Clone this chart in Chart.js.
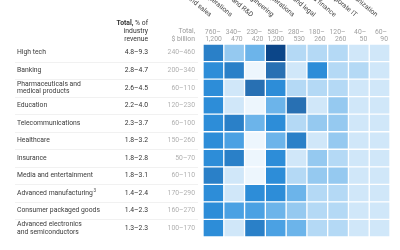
<!DOCTYPE html>
<html>
<head>
<meta charset="utf-8">
<script src="https://cdn.jsdelivr.net/npm/chart.js@4.4.1/dist/chart.umd.min.js"></script>
<style>
  html, body { margin: 0; padding: 0; background: #fff; }
  #wrap { width: 400px; height: 250px; position: relative; }
</style>
</head>
<body>
<div id="wrap"><canvas id="heat"></canvas></div>
<script>
var industries = ['High tech', 'Banking', 'Pharmaceuticals and\nmedical products', 'Education',
    'Telecommunications', 'Healthcare', 'Insurance', 'Media and entertainment',
    'Advanced manufacturing', 'Consumer packaged goods', 'Advanced electronics\nand semiconductors'];
var revenueShare = ['4.8–9.3', '2.8–4.7', '2.6–4.5', '2.2–4.0', '2.3–3.7', '1.8–3.2',
    '1.8–2.8', '1.8–3.1', '1.4–2.4', '1.4–2.3', '1.3–2.3'];
var totalBillion = ['240–460', '200–340', '60–110', '120–230', '60–100', '150–260',
    '50–70', '60–110', '170–290', '160–270', '100–170'];

var functions = ['Marketing and sales', 'Customer operations', 'Product and R&D',
    'Software engineering', 'Supply chain and operations', 'Risk and legal',
    'Strategy and finance', 'Corporate IT', 'Talent and organization'];
var functionRanges = ['760–\n1,200', '340–\n470', '230–\n420', '580–\n1,200', '280–\n530',
    '180–\n260', '120–\n260', '40–\n50', '60–\n90'];

// impact level of each cell, 1 = lowest .. 10 = highest, one array per function (rows = industries)
var marketingSales    = [8, 7, 7, 7, 7, 7, 7, 8, 7, 7, 7];
var customerOps       = [4, 8, 2, 2, 8, 6, 8, 2, 2, 6, 2];
var productRnd        = [5, 1, 9, 1, 5, 1, 1, 1, 7, 6, 8];
var softwareEng       = [10, 9, 7, 5, 7, 5, 7, 7, 7, 5, 6];
var supplyChain       = [3, 2, 3, 9, 3, 8, 2, 3, 5, 4, 5];
var riskLegal         = [3, 7, 3, 2, 4, 2, 4, 4, 3, 3, 3];
var strategyFinance   = [3, 3, 3, 4, 4, 4, 3, 4, 3, 3, 3];
var corporateIt       = [2, 3, 2, 2, 2, 2, 2, 2, 2, 2, 2];
var talentOrg         = [2, 2, 2, 2, 2, 2, 2, 2, 2, 2, 2];

var levels = [marketingSales, customerOps, productRnd, softwareEng, supplyChain,
    riskLegal, strategyFinance, corporateIt, talentOrg];

var shades = ['#edf6fd', '#d0e7f9', '#b4d9f5', '#95c9f0', '#6cb4ea',
    '#4ba1e3', '#2d8dd8', '#2a80c8', '#2870b3', '#0c4689'];

var FONT = 'Roboto, "Noto Sans", sans-serif';

var datasets = levels.map(function(col, i) {
    return {
        label: functions[i],
        data: col.map(function() { return 1; }),
        backgroundColor: col.map(function(v) { return shades[v - 1]; }),
        borderColor: '#ffffff',
        borderWidth: 1,
        borderSkipped: false
    };
});

// all the text around the grid
var tablePlugin = {
    id: 'tableText',
    afterDraw: function(chart) {
        var ctx = chart.ctx;
        var x = chart.scales.x, y = chart.scales.y;
        ctx.save();

        // row separators
        ctx.strokeStyle = '#f1f1f1';
        ctx.lineWidth = 1;
        for (var r = 0; r < industries.length - 1; r++) {
            var yy = Math.round((y.getPixelForValue(r) + y.getPixelForValue(r + 1)) / 2) + 0.5;
            ctx.beginPath();
            ctx.moveTo(15, yy);
            ctx.lineTo(198, yy);
            ctx.stroke();
        }

        ctx.textBaseline = 'middle';
        ctx.font = '6.8px ' + FONT;
        industries.forEach(function(name, r) {
            var cy = y.getPixelForValue(r);
            var lines = name.split('\n');
            ctx.fillStyle = '#3a3a3a';
            ctx.textAlign = 'left';
            lines.forEach(function(l, k) {
                ctx.fillText(l, 17, cy + (k - (lines.length - 1) / 2) * 7.5);
            });
            if (name === 'Advanced manufacturing') {
                var w = ctx.measureText(name).width;
                ctx.font = '4.5px ' + FONT;
                ctx.fillText('3', 17 + w + 0.5, cy - 2);
                ctx.font = '6.8px ' + FONT;
            }
            ctx.textAlign = 'right';
            ctx.fillStyle = '#333';
            ctx.fillText(revenueShare[r], 148, cy);
            ctx.fillStyle = '#b0b0b0';
            ctx.fillText(totalBillion[r], 195, cy);
        });

        // column header for the two totals
        ctx.textAlign = 'right';
        ctx.fillStyle = '#333';
        var rest = ' % of';
        ctx.font = '6.8px ' + FONT;
        var restW = ctx.measureText(rest).width;
        ctx.fillText(rest, 148, 23);
        ctx.font = 'bold 6.8px ' + FONT;
        ctx.fillText('Total,', 148 - restW, 23);
        ctx.font = '6.8px ' + FONT;
        ctx.fillText('industry', 148, 31);
        ctx.fillText('revenue', 148, 39);
        ctx.fillStyle = '#9a9a9a';
        ctx.fillText('Total,', 195, 31);
        ctx.fillText('$ billion', 195, 39);

        // function ranges and rotated names
        functions.forEach(function(fn, i) {
            var cx = x.getPixelForValue(i + 0.5);
            var right = x.getPixelForValue(i + 1) - 2;
            var lines = functionRanges[i].split('\n');
            ctx.fillStyle = '#a0a0a0';
            ctx.textAlign = 'right';
            ctx.fillText(lines[0], right - 1, 32);
            ctx.fillText(lines[1], right, 39);

            ctx.save();
            ctx.translate(cx - 4, 17);
            ctx.rotate(40 * Math.PI / 180);
            ctx.fillStyle = '#444';
            ctx.textAlign = 'right';
            ctx.textBaseline = 'alphabetic';
            ctx.fillText(fn, 0, 0);
            ctx.restore();
        });
        ctx.restore();
    }
};

new Chart(document.getElementById('heat'), {
    type: 'bar',
    data: { labels: industries, datasets: datasets },
    options: {
        indexAxis: 'y',
        responsive: true,
        maintainAspectRatio: false,
        animation: false,
        layout: { padding: { left: 203, right: 10, top: 44, bottom: 13 } },
        datasets: { bar: { categoryPercentage: 1, barPercentage: 1 } },
        scales: {
            x: { stacked: true, min: 0, max: 9, display: false },
            y: { stacked: true, display: false }
        },
        plugins: { legend: { display: false }, tooltip: { enabled: false } }
    },
    plugins: [tablePlugin]
});
</script>
</body>
</html>
